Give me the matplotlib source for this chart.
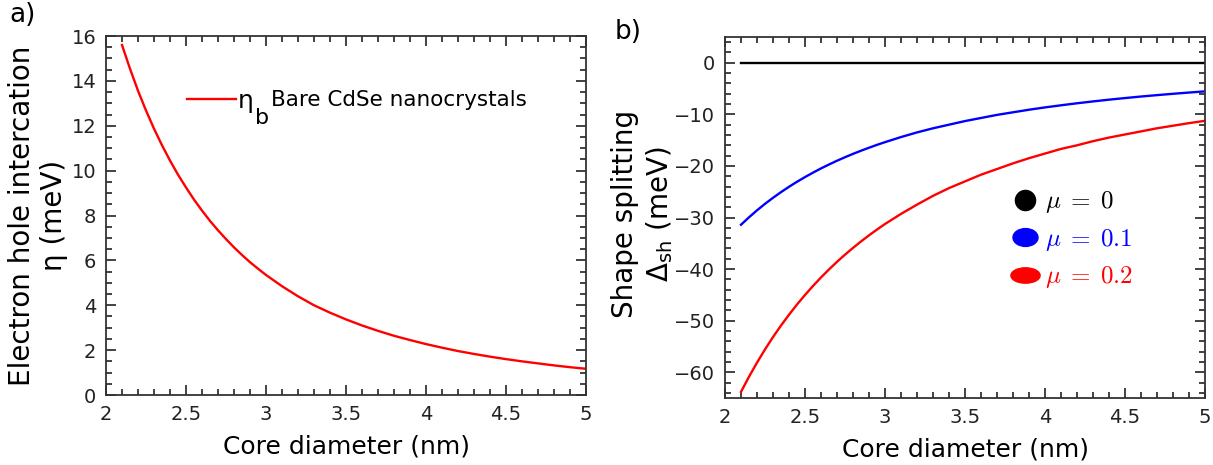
import numpy as np
import matplotlib
matplotlib.use("Agg")
import matplotlib.pyplot as plt
from matplotlib.lines import Line2D
from matplotlib.path import Path
from matplotlib.transforms import Affine2D
from matplotlib.ticker import MultipleLocator, FuncFormatter

# core diameter (nm)
diam = [2.1, 2.15, 2.2, 2.25, 2.3, 2.35, 2.4, 2.45, 2.5, 2.55,
        2.6, 2.65, 2.7, 2.75, 2.8, 2.85, 2.9, 2.95, 3.0,
        3.1, 3.2, 3.3, 3.4, 3.5, 3.6, 3.7, 3.8, 3.9, 4.0,
        4.1, 4.2, 4.3, 4.4, 4.5, 4.6, 4.7, 4.8, 4.9, 5.0]

# panel a: electron hole interaction (meV)
eta_b = [15.6, 14.54, 13.56, 12.68, 11.87, 11.13, 10.45, 9.82, 9.25, 8.71,
         8.22, 7.76, 7.34, 6.95, 6.58, 6.24, 5.92, 5.63, 5.35,
         4.85, 4.4, 4.0, 3.67, 3.37, 3.1, 2.86, 2.64, 2.45, 2.27,
         2.11, 1.96, 1.83, 1.71, 1.6, 1.5, 1.41, 1.32, 1.24, 1.17]

# panel b: shape splitting (meV)
mu_0 = [0.0] * len(diam)
mu_01 = [-31.4, -29.96, -28.61, -27.35, -26.18, -25.08, -24.04, -23.07, -22.16, -21.3,
         -20.48, -19.72, -18.99, -18.31, -17.66, -17.05, -16.47, -15.91, -15.39,
         -14.4, -13.5, -12.7, -12.0, -11.3, -10.7, -10.1, -9.6, -9.1, -8.65,
         -8.24, -7.85, -7.49, -7.15, -6.84, -6.54, -6.27, -6.01, -5.77, -5.54]
mu_02 = [-63.8, -60.87, -58.14, -55.58, -53.18, -50.95, -48.85, -46.87, -45.02, -43.27,
         -41.62, -40.07, -38.59, -37.2, -35.89, -34.64, -33.46, -32.33, -31.26,
         -29.3, -27.5, -25.8, -24.3, -23.0, -21.7, -20.6, -19.5, -18.5, -17.6,
         -16.7, -16.0, -15.2, -14.5, -13.9, -13.3, -12.7, -12.2, -11.7, -11.25]

mu_labels = [r"$\mu\;=\;0$", r"$\mu\;=\;0.1$", r"$\mu\;=\;0.2$"]
mu_colors = ["black", "blue", "red"]

fig = plt.figure(figsize=(12.13, 4.65), dpi=100)
ax1 = fig.add_axes([0.0874, 0.1505, 0.3957, 0.772])
ax2 = fig.add_axes([0.5977, 0.1441, 0.3957, 0.7763])


def style_axes(ax):
    ax.tick_params(which="both", direction="in", top=True, right=True,
                   labelsize=14, colors="#222222", width=1.2)
    ax.tick_params(which="major", length=7, pad=7)
    ax.tick_params(which="minor", length=4)
    for s in ax.spines.values():
        s.set_linewidth(1.3)
        s.set_color("#333333")
    ax.xaxis.set_major_locator(MultipleLocator(0.5))
    ax.xaxis.set_minor_locator(MultipleLocator(0.1))
    ax.xaxis.set_major_formatter(FuncFormatter(lambda v, p: f"{v:g}"))
    ax.set_xlim(2, 5)
    ax.set_xlabel("Core diameter (nm)", fontsize=18, labelpad=8)


# panel a
ax1.plot(diam, eta_b, color="red", lw=1.7, label="\u03b7")
style_axes(ax1)
ax1.set_ylim(0, 16)
ax1.yaxis.set_major_locator(MultipleLocator(2))
ax1.yaxis.set_minor_locator(MultipleLocator(0.5))
ax1.set_ylabel("Electron hole intercation\n\u03b7 (meV)", fontsize=20)
ax1.yaxis.set_label_coords(-0.079, 0.5)
leg1 = ax1.legend(loc="upper left", bbox_to_anchor=(0.132, 0.902), frameon=False, fontsize=18,
                  handlelength=1.95, handletextpad=0.1, borderpad=0.2)

# panel b
for vals, c in zip([mu_0, mu_01, mu_02], mu_colors):
    ax2.plot(diam, vals, color=c, lw=1.7)
style_axes(ax2)
ax2.set_ylim(-65, 5)
ax2.yaxis.set_major_locator(MultipleLocator(10))
ax2.yaxis.set_minor_locator(MultipleLocator(2))
ax2.set_ylabel("Shape splitting\n" + r"$\mathregular{\Delta_{sh}}$ (meV)", fontsize=20)
ax2.yaxis.set_label_coords(-0.105, 0.51)

circ = Path.unit_circle()
shapes = [circ,
          circ.transformed(Affine2D().scale(1.4, 1.0)),
          circ.transformed(Affine2D().scale(1.9, 1.0))]
sizes = [14.5, 18, 21]
handles = [Line2D([], [], ls="none", marker=m, ms=s, color=c)
           for m, s, c in zip(shapes, sizes, mu_colors)]
leg = ax2.legend(handles, mu_labels, loc="upper left", bbox_to_anchor=(0.55, 0.64),
                 frameon=False, fontsize=18, handlelength=1.05, handletextpad=0.3,
                 labelspacing=0.46)
for t, c in zip(leg.get_texts(), mu_colors):
    t.set_color(c)
    t.set_math_fontfamily("cm")

fig.text(0.008, 0.995, "a)", fontsize=19, va="top")
fig.text(0.507, 0.96, "b)", fontsize=19, va="top")

# subscript "b" and description placed right after the legend's eta
fig.canvas.draw()
bb = leg1.get_texts()[0].get_window_extent()
W, H = fig.bbox.width, fig.bbox.height
fig.text((bb.x1 + 1) / W, (bb.y0 - 15) / H, "b", fontsize=16, va="bottom")
fig.text((bb.x1 + 17) / W, (bb.y0 + 3) / H, "Bare CdSe nanocrystals", fontsize=15.5, va="bottom")

fig.savefig("out.png", dpi=100)
